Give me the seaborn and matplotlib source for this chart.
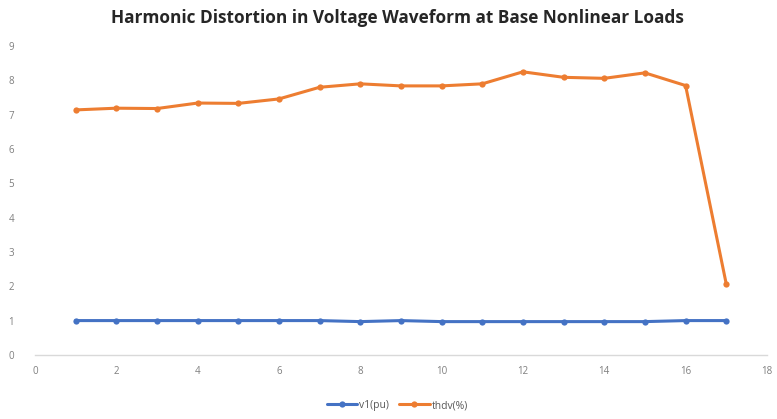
import matplotlib
matplotlib.use("Agg")
import matplotlib.pyplot as plt
import seaborn as sns
import pandas as pd

# Bus index and measured quantities
bus = list(range(1, 18))
v1_pu = [1.00, 1.00, 1.00, 1.00, 1.00, 1.00, 1.00, 0.97, 1.00, 0.97,
         0.97, 0.97, 0.97, 0.97, 0.97, 1.00, 1.00]
thdv_pct = [7.14, 7.19, 7.18, 7.34, 7.33, 7.46, 7.80, 7.90, 7.84, 7.84,
            7.90, 8.25, 8.09, 8.06, 8.22, 7.85, 2.07]
series_names = ["v1(pu)", "thdv(%)"]
x_ticks = list(range(0, 20, 2))
y_ticks = list(range(0, 10))

df = pd.DataFrame({
    "bus": bus * 2,
    "value": v1_pu + thdv_pct,
    "series": [series_names[0]] * len(bus) + [series_names[1]] * len(bus),
})

sns.set_theme(style="white")
plt.rcParams["font.family"] = ["Open Sans", "DejaVu Sans"]

fig = plt.figure(figsize=(7.77, 4.19), dpi=100)
ax = fig.add_axes([0.045, 0.153, 0.942, 0.737])

palette = {series_names[0]: "#4472C4", series_names[1]: "#ED7D31"}
sns.lineplot(data=df, x="bus", y="value", hue="series", palette=palette,
             marker="o", markersize=4.5, markeredgewidth=0, linewidth=2.2,
             ax=ax)

ax.set_xlim(0, 18)
ax.set_ylim(0, 9)
ax.set_xticks(x_ticks)
ax.set_yticks(y_ticks)
ax.set_xlabel("")
ax.set_ylabel("")
ax.tick_params(axis="both", labelsize=7, colors="#7f7f7f", length=0)
ax.tick_params(axis="x", pad=8)
ax.tick_params(axis="y", pad=15)

for side in ["top", "right", "left"]:
    ax.spines[side].set_visible(False)
ax.spines["bottom"].set_color("#d9d9d9")
ax.spines["bottom"].set_linewidth(1)

fig.text(0.512, 0.958,
         "Harmonic Distortion in Voltage Waveform at Base Nonlinear Loads",
         ha="center", va="center", fontsize=12.4, fontweight="bold",
         color="#262626")

handles, labels = ax.get_legend_handles_labels()
ax.legend(handles, labels, loc="center", bbox_to_anchor=(0.495, -0.164),
          ncol=2, frameon=False, fontsize=7.5, labelcolor="#595959",
          handlelength=2.9, columnspacing=1.0, handletextpad=0.2)

fig.savefig("out.png", dpi=100)
